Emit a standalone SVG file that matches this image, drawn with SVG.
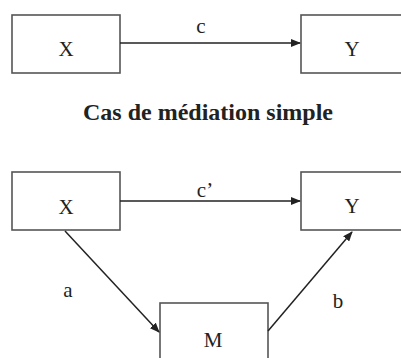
<svg xmlns="http://www.w3.org/2000/svg" width="401" height="358" viewBox="0 0 401 358">
<style>
.box{fill:#fff;stroke:#555;stroke-width:1.6}
.lbl{font-family:"Liberation Serif","Times New Roman",serif;font-size:21px;fill:#222;text-anchor:middle}
.edge{stroke:#222;stroke-width:1.5;fill:none;marker-end:url(#ah)}
.title{font-family:"Liberation Serif","Times New Roman",serif;font-size:24px;font-weight:bold;fill:#222;text-anchor:middle}
</style>
<defs>
<marker id="ah" markerWidth="10" markerHeight="8" refX="9" refY="4" orient="auto" markerUnits="userSpaceOnUse">
<path d="M0,0 L10,4 L0,8 z" fill="#222"/>
</marker>
</defs>
<rect width="401" height="358" fill="#fff"/>
<g id="x1"><rect class="box" x="12" y="15" width="108" height="58"/><text class="lbl" x="66" y="56">X</text></g>
<g id="y1"><rect class="box" x="301" y="15" width="110" height="58"/><text class="lbl" x="352" y="56">Y</text></g>
<text class="title" x="208" y="120">Cas de médiation simple</text>
<g id="x2"><rect class="box" x="12" y="172" width="108" height="58"/><text class="lbl" x="66" y="214">X</text></g>
<g id="y2"><rect class="box" x="301" y="172" width="110" height="58"/><text class="lbl" x="352" y="213">Y</text></g>
<g id="m"><rect class="box" x="160" y="303" width="108" height="70"/><text class="lbl" x="213" y="347">M</text></g>
<g id="connectors">
<line class="edge" x1="120" y1="43" x2="300" y2="43"/>
<text class="lbl" x="201" y="33">c</text>
<line class="edge" x1="120" y1="201" x2="300" y2="201"/>
<text class="lbl" x="205" y="197">c’</text>
<line class="edge" x1="65" y1="231" x2="159" y2="332"/>
<text class="lbl" x="68" y="297">a</text>
<line class="edge" x1="268" y1="331" x2="352" y2="232"/>
<text class="lbl" x="338" y="308">b</text>
</g>
</svg>
